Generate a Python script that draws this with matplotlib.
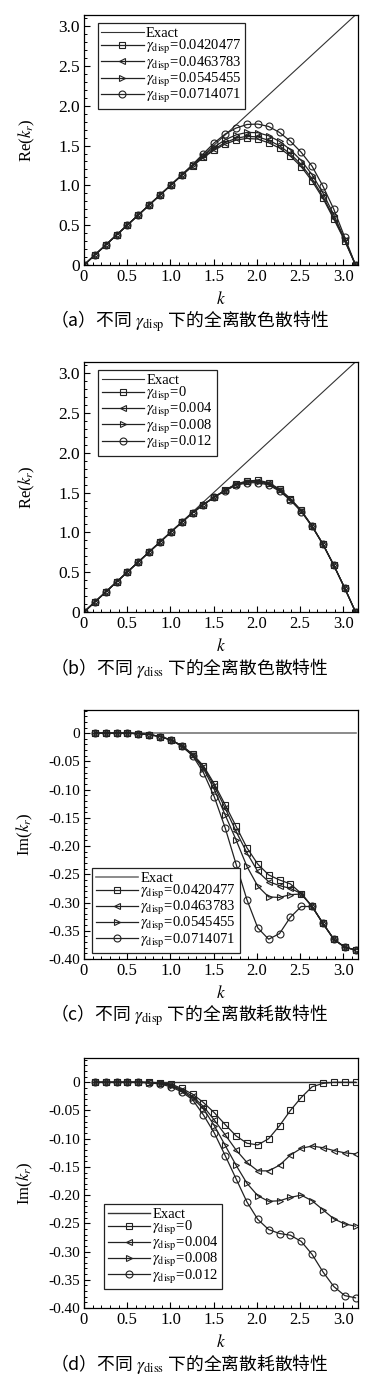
"""Full-discrete dispersion / dissipation curves for four gamma settings -> out.png."""

import matplotlib

matplotlib.use("Agg")
import matplotlib.pyplot as plt
import numpy as np
from matplotlib.ticker import FuncFormatter, MultipleLocator

plt.rcParams.update({
    "font.family": ["Liberation Serif", "DejaVu Serif"],
    "mathtext.fontset": "stix",
    "axes.unicode_minus": False,
    "axes.linewidth": 0.9,
})

CJK = ["Noto Sans CJK SC", "DejaVu Sans"]
LINE = "#222222"

# wavenumber grid k_j = j*pi/25
K = np.arange(26) * np.pi / 25

# (a) Re(k_r), different gamma_disp
A_LABELS = ["0.0420477", "0.0463783", "0.0545455", "0.0714071"]
a_sq = [0, 0.126, 0.251, 0.377, 0.503, 0.628, 0.754, 0.879, 1.004, 1.126, 1.243, 1.352, 1.443,
        1.519, 1.569, 1.590, 1.581, 1.535, 1.469, 1.368, 1.234, 1.054, 0.837, 0.577, 0.305, 0]
a_lt = [0, 0.126, 0.251, 0.377, 0.503, 0.628, 0.754, 0.879, 1.004, 1.127, 1.246, 1.359, 1.457,
        1.538, 1.592, 1.616, 1.609, 1.566, 1.498, 1.396, 1.261, 1.082, 0.860, 0.595, 0.312, 0]
a_rt = [0, 0.126, 0.251, 0.377, 0.503, 0.628, 0.754, 0.880, 1.005, 1.129, 1.251, 1.373, 1.483,
        1.573, 1.634, 1.665, 1.662, 1.623, 1.553, 1.448, 1.312, 1.134, 0.903, 0.630, 0.324, 0]
a_ci = [0, 0.126, 0.251, 0.377, 0.503, 0.628, 0.754, 0.880, 1.006, 1.132, 1.262, 1.400, 1.535,
        1.645, 1.720, 1.765, 1.770, 1.740, 1.665, 1.555, 1.415, 1.240, 0.990, 0.700, 0.350, 0]

# (b) Re(k_r), different gamma_diss
B_LABELS = ["0", "0.004", "0.008", "0.012"]
b_sq = [0, 0.126, 0.251, 0.377, 0.503, 0.628, 0.754, 0.879, 1.004, 1.127, 1.246, 1.350, 1.443,
        1.532, 1.608, 1.645, 1.655, 1.625, 1.545, 1.425, 1.276, 1.080, 0.852, 0.587, 0.301, 0]
b_lt = [0, 0.126, 0.251, 0.377, 0.503, 0.628, 0.754, 0.879, 1.004, 1.127, 1.246, 1.350, 1.443,
        1.530, 1.603, 1.638, 1.645, 1.615, 1.536, 1.418, 1.271, 1.078, 0.851, 0.586, 0.301, 0]
b_rt = [0, 0.126, 0.251, 0.377, 0.503, 0.628, 0.754, 0.879, 1.004, 1.127, 1.246, 1.350, 1.443,
        1.527, 1.598, 1.630, 1.636, 1.605, 1.527, 1.411, 1.266, 1.076, 0.850, 0.586, 0.301, 0]
b_ci = [0, 0.126, 0.251, 0.377, 0.503, 0.628, 0.754, 0.879, 1.004, 1.127, 1.246, 1.350, 1.443,
        1.524, 1.592, 1.622, 1.625, 1.595, 1.518, 1.404, 1.262, 1.074, 0.849, 0.585, 0.301, 0]

# (c) Im(k_r), different gamma_disp (j = 1..25)
c_sq = [0, 0, 0, 0, -0.001, -0.0025, -0.006, -0.012, -0.022, -0.037, -0.058, -0.090, -0.127,
        -0.165, -0.203, -0.232, -0.251, -0.260, -0.267, -0.284, -0.307, -0.337, -0.365, -0.379, -0.384]
c_lt = [0, 0, 0, 0, -0.001, -0.0025, -0.006, -0.012, -0.022, -0.038, -0.060, -0.094, -0.133,
        -0.174, -0.212, -0.245, -0.263, -0.270, -0.275, -0.284, -0.307, -0.337, -0.365, -0.379, -0.384]
c_rt = [0, 0, 0, 0, -0.001, -0.0025, -0.006, -0.012, -0.023, -0.039, -0.063, -0.100, -0.145,
        -0.189, -0.236, -0.271, -0.290, -0.291, -0.286, -0.285, -0.307, -0.337, -0.365, -0.379, -0.384]
c_ci = [0, 0, 0, 0, -0.001, -0.0025, -0.006, -0.012, -0.023, -0.040, -0.070, -0.113, -0.168,
        -0.232, -0.295, -0.345, -0.365, -0.355, -0.326, -0.307, -0.307, -0.337, -0.365, -0.379, -0.384]

# (d) Im(k_r), different gamma_diss (j = 1..25)
d_sq = [0, 0, 0, 0, 0, 0, -0.001, -0.003, -0.011, -0.021, -0.036, -0.054, -0.075,
        -0.095, -0.108, -0.111, -0.100, -0.077, -0.050, -0.027, -0.008, -0.002, 0, 0, 0]
d_lt = [0, 0, 0, 0, 0, 0, -0.002, -0.005, -0.013, -0.025, -0.043, -0.067, -0.093,
        -0.120, -0.142, -0.157, -0.157, -0.147, -0.129, -0.117, -0.113, -0.116, -0.121, -0.125, -0.127]
d_rt = [0, 0, 0, 0, 0, -0.001, -0.002, -0.006, -0.015, -0.028, -0.047, -0.077, -0.112,
        -0.147, -0.179, -0.201, -0.211, -0.210, -0.204, -0.200, -0.210, -0.226, -0.242, -0.251, -0.255]
d_ci = [0, 0, 0, 0, 0, -0.001, -0.003, -0.008, -0.017, -0.031, -0.058, -0.090, -0.130,
        -0.171, -0.212, -0.243, -0.261, -0.268, -0.271, -0.282, -0.305, -0.336, -0.362, -0.378, -0.382]

CAPTIONS = [
    r"（a）不同 $\gamma_{\rm disp}$ 下的全离散色散特性",
    r"（b）不同 $\gamma_{\rm diss}$ 下的全离散色散特性",
    r"（c）不同 $\gamma_{\rm disp}$ 下的全离散耗散特性",
    r"（d）不同 $\gamma_{\rm diss}$ 下的全离散耗散特性",
]

MARKERS = ["s", "<", ">", "o"]
W_PX, H_PX = 382, 1382


def tick_fmt(v, _pos):
    if abs(v) < 1e-9:
        return "0"
    return f"{v:.1f}" if abs(v) >= 0.45 else f"{v:.2f}"


def draw_panel(fig, top_px, bottom_px, x, exact, series, labels, ylims, yname, im, leg_anchor,
               leg_loc, caption, exact_style):
    ax = fig.add_axes([84 / W_PX, 1 - bottom_px / H_PX, 274 / W_PX, (bottom_px - top_px) / H_PX])
    ax.plot(x, exact, label="Exact", **exact_style)
    for ys, mk, lab in zip(series, MARKERS, labels):
        ax.plot(x, ys, color=LINE, lw=0.9, marker=mk, ms=5, mfc="none", mec=LINE, mew=0.8,
                label=r"$\gamma_{\rm disp}$=" + lab)
    ax.set_xlim(0, 3.17)
    ax.set_ylim(*ylims)
    ax.xaxis.set_major_locator(MultipleLocator(0.5))
    ax.xaxis.set_minor_locator(MultipleLocator(0.1))
    if im:
        ax.yaxis.set_major_locator(MultipleLocator(0.05))
        ax.yaxis.set_minor_locator(MultipleLocator(0.01))
    else:
        ax.yaxis.set_major_locator(MultipleLocator(0.5))
        ax.yaxis.set_minor_locator(MultipleLocator(0.1))
    ax.xaxis.set_major_formatter(FuncFormatter(tick_fmt))
    ax.yaxis.set_major_formatter(FuncFormatter(tick_fmt))
    ax.tick_params(which="both", direction="in", top=False, right=False, pad=3)
    ax.tick_params(axis="x", labelsize=12)
    ax.tick_params(axis="y", labelsize=11 if im else 12.5)
    ax.tick_params(which="major", length=4.5, width=0.8)
    ax.tick_params(which="minor", length=2.5, width=0.7)
    ax.set_xlabel(r"$k$", fontsize=12.5)
    ax.xaxis.set_label_coords(0.5, -0.103)
    ax.set_ylabel(yname, fontsize=12)
    ax.yaxis.set_label_coords(-0.18 if im else -0.17, 0.5)
    leg = ax.legend(loc=leg_loc, bbox_to_anchor=leg_anchor, fontsize=10.5, frameon=True,
                    fancybox=False, edgecolor="#222222", framealpha=1, handlelength=2.9,
                    handletextpad=0.15, labelspacing=-0.12, borderpad=0.25, borderaxespad=0)
    leg.get_frame().set_linewidth(0.9)
    fig.text(0.496, 1 - (bottom_px + 56) / H_PX, caption, ha="center", va="center", fontsize=12.8,
             family=CJK)
    return ax


def main():
    fig = plt.figure(figsize=(W_PX / 100, H_PX / 100), dpi=100)
    thin = dict(color="#333333", lw=0.8)
    draw_panel(fig, 15, 265, K, K, [a_sq, a_lt, a_rt, a_ci], A_LABELS, (0, 3.14), r"Re($k_r$)",
               False, (0.05, 0.967), "upper left", CAPTIONS[0], thin)
    draw_panel(fig, 362, 612, K, K, [b_sq, b_lt, b_rt, b_ci], B_LABELS, (0, 3.14), r"Re($k_r$)",
               False, (0.052, 0.968), "upper left", CAPTIONS[1], thin)
    zero = np.zeros(len(K) - 1)
    draw_panel(fig, 710, 959, K[1:], zero, [c_sq, c_lt, c_rt, c_ci], A_LABELS, (-0.40, 0.041),
               r"Im($k_r$)", True, (0.03, 0.023), "lower left", CAPTIONS[2],
               dict(color="#777777", lw=1.2))
    draw_panel(fig, 1058, 1308, K[1:], zero, [d_sq, d_lt, d_rt, d_ci], B_LABELS, (-0.40, 0.043),
               r"Im($k_r$)", True, (0.073, 0.075), "lower left", CAPTIONS[3],
               dict(color="#333333", lw=1.0))
    fig.savefig("out.png", dpi=100)
    plt.close(fig)


if __name__ == "__main__":
    main()
